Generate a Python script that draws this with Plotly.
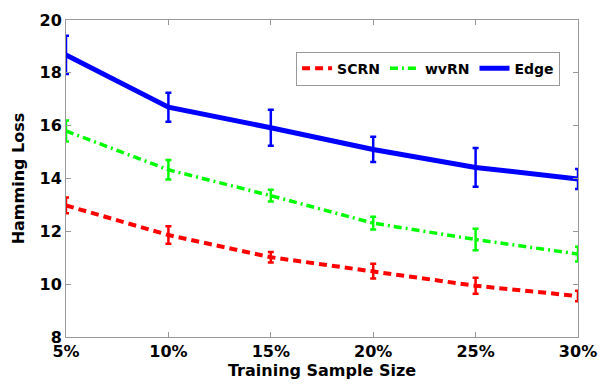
import plotly.graph_objects as go

sizes = [5, 10, 15, 20, 25, 30]
size_labels = ["5%", "10%", "15%", "20%", "25%", "30%"]
scrn = [12.98, 11.86, 11.02, 10.49, 9.94, 9.55]
scrn_err = [0.30, 0.33, 0.20, 0.28, 0.30, 0.20]
wvrn = [15.80, 14.33, 13.35, 12.31, 11.69, 11.14]
wvrn_err = [0.40, 0.37, 0.22, 0.24, 0.41, 0.28]
edge = [18.68, 16.70, 15.92, 15.10, 14.42, 13.98]
edge_err = [0.72, 0.55, 0.68, 0.48, 0.73, 0.38]

FONT = "DejaVu Sans"

fig = go.Figure()
series = [
    ("SCRN", scrn, scrn_err, "#ff0000", "8px,5px", 4),
    ("wvRN", wvrn, wvrn_err, "#00ff00", "8px,4px,2px,4px", 3.5),
    ("Edge", edge, edge_err, "#0000ff", "solid", 5),
]
for name, y, e, c, dash, w in series:
    fig.add_trace(go.Scatter(
        x=sizes, y=y, name=name, mode="lines",
        line=dict(color=c, dash=dash, width=w),
        error_y=dict(type="data", array=e, visible=True, color=c, thickness=2.5, width=3),
    ))

axis_common = dict(
    showline=True, linecolor="#999999", linewidth=1, mirror="ticks",
    ticks="inside", ticklen=5, tickcolor="#999999", showgrid=False, zeroline=False,
    tickfont=dict(family=FONT, size=16, color="black", weight="bold"),
)
fig.update_xaxes(range=[5, 30], tickmode="array", tickvals=sizes, ticktext=size_labels,
                 title=dict(text="Training Sample Size", standoff=0,
                            font=dict(family=FONT, size=16, color="black", weight="bold")),
                 **axis_common)
fig.update_yaxes(range=[8, 20], dtick=2,
                 title=dict(text="Hamming Loss", standoff=10,
                            font=dict(family=FONT, size=16, color="black", weight="bold")),
                 **axis_common)
fig.update_layout(
    width=610, height=384,
    margin=dict(l=66, r=32, t=11, b=47),
    plot_bgcolor="white", paper_bgcolor="white",
    legend=dict(orientation="h", x=0.965, y=0.90, xanchor="right", yanchor="top",
                bordercolor="#999999", borderwidth=1, bgcolor="white",
                font=dict(family=FONT, size=14, color="black", weight="bold"),
                itemwidth=30, tracegroupgap=0),
)
fig.write_html("out.html")
